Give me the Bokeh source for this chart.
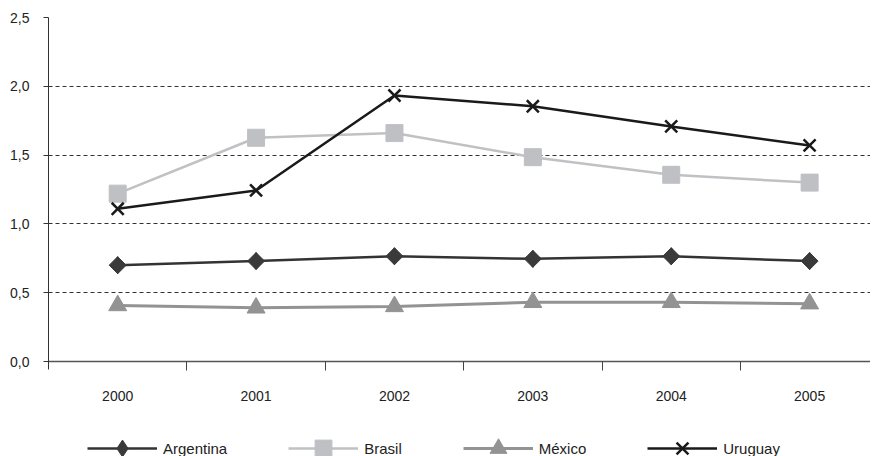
import math
from bokeh.plotting import figure
from bokeh.models import FixedTicker, Legend, LegendItem, Range1d
from bokeh.embed import file_html
from bokeh.resources import INLINE

years = ["2000", "2001", "2002", "2003", "2004", "2005"]
argentina = [0.70, 0.73, 0.765, 0.746, 0.765, 0.73]
brasil = [1.22, 1.626, 1.66, 1.485, 1.357, 1.30]
mexico = [0.407, 0.39, 0.40, 0.43, 0.43, 0.42]
uruguay = [1.11, 1.243, 1.933, 1.855, 1.708, 1.57]
y_ticks = [0.0, 0.5, 1.0, 1.5, 2.0, 2.5]
y_tick_labels = ["0,0", "0,5", "1,0", "1,5", "2,0", "2,5"]

xs = list(range(len(years)))
FONT = "Liberation Sans"

# frame: top at 17px, value 0 at 361px, bottom at 456px (room for legend)
PX_PER_UNIT = (361 - 17) / 2.5
y_bottom = -(456 - 361) / PX_PER_UNIT

p = figure(width=870, height=456, output_backend="svg", toolbar_location=None,
           x_range=Range1d(-0.5, 5.44), y_range=Range1d(y_bottom, 2.5),
           min_border_left=48, min_border_top=17, min_border_right=0,
           min_border_bottom=0)
p.outline_line_color = None
p.background_fill_color = "white"
p.border_fill_color = "white"

# grid
p.xgrid.grid_line_color = None
p.ygrid.ticker = FixedTicker(ticks=y_ticks[1:])
p.ygrid.grid_line_color = "#333333"
p.ygrid.grid_line_dash = "4 3"
p.ygrid.grid_line_width = 1

# y axis
p.yaxis.ticker = FixedTicker(ticks=y_ticks)
p.yaxis.bounds = (-0.06, 2.5)
p.yaxis.major_label_overrides = {t: l for t, l in zip(y_ticks, y_tick_labels)}
p.yaxis.major_tick_out = 5
p.yaxis.major_tick_in = 0
p.yaxis.minor_tick_line_color = None
p.yaxis.axis_line_color = "#333333"
p.yaxis.major_tick_line_color = "#333333"
p.yaxis.major_label_text_font = FONT
p.yaxis.major_label_text_font_size = "14px"
p.yaxis.major_label_text_color = "#222222"
p.yaxis.major_label_standoff = 14

# x axis at value 0: labels at categories, tick marks between categories
p.xaxis.fixed_location = 0
p.xaxis.ticker = FixedTicker(ticks=xs, minor_ticks=[i + 0.5 for i in xs[:-1]])
p.xaxis.major_label_overrides = {i: y for i, y in zip(xs, years)}
p.xaxis.major_tick_out = 0
p.xaxis.major_tick_in = 0
p.xaxis.minor_tick_out = 9
p.xaxis.minor_tick_in = 0
p.xaxis.minor_tick_line_color = "#444444"
p.xaxis.axis_line_color = "#555555"
p.xaxis.axis_line_width = 1.5
p.xaxis.major_label_text_font = FONT
p.xaxis.major_label_text_font_size = "14px"
p.xaxis.major_label_text_color = "#222222"
p.xaxis.major_label_standoff = 20

# series
la = p.line(xs, argentina, line_color="#333333", line_width=2.5)
# diamond used for the legend key; the rotated square covers it in the plot
sa_key = p.scatter(xs, argentina, marker="diamond", size=17,
                   fill_color="#3a3a3a", line_color="#3a3a3a")
sa = p.scatter(xs, argentina, marker="square", angle=math.pi / 4, size=12,
               fill_color="#3a3a3a", line_color="#3a3a3a")

lb = p.line(xs, brasil, line_color="#c0c1c4", line_width=2.5)
sb = p.scatter(xs, brasil, marker="square", size=17,
               fill_color="#bfc0c4", line_color="#bfc0c4")

lm = p.line(xs, mexico, line_color="#939393", line_width=3)
sm = p.scatter(xs, mexico, marker="triangle", size=18,
               fill_color="#939393", line_color="#939393")

lu = p.line(xs, uruguay, line_color="#1a1a1a", line_width=2.5)
su = p.scatter(xs, uruguay, marker="x", size=17,
               line_color="#1a1a1a", line_width=2.5)

legend = Legend(items=[
    LegendItem(label="Argentina", renderers=[la, sa_key]),
    LegendItem(label="Brasil", renderers=[lb, sb]),
    LegendItem(label="México", renderers=[lm, sm]),
    LegendItem(label="Uruguay", renderers=[lu, su]),
], orientation="horizontal", location=(39, -13))
legend.glyph_width = 70
legend.glyph_height = 42
legend.label_height = 16
legend.label_standoff = 6
legend.spacing = 61
legend.padding = 0
legend.margin = 0
legend.border_line_color = None
legend.background_fill_alpha = 0
legend.label_text_font = FONT
legend.label_text_font_size = "15px"
legend.label_text_color = "#222222"
p.add_layout(legend, "center")

open("out.html", "w").write(file_html(p, INLINE))
